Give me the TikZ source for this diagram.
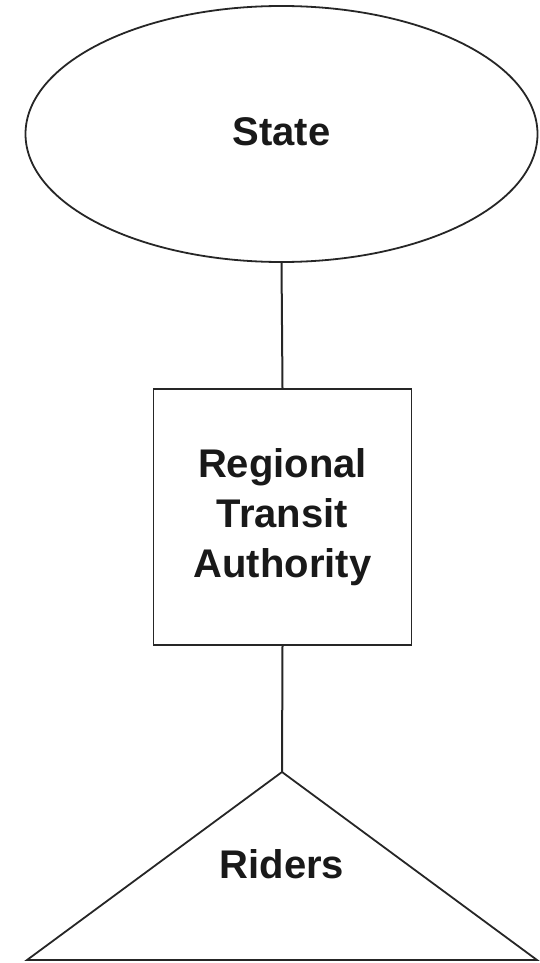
\documentclass[tikz,border=0pt]{standalone}
\usepackage{fontspec}
\setmainfont{Liberation Sans}
\usetikzlibrary{shapes.geometric}
\begin{document}
\begin{tikzpicture}[x=1pt, y=-1pt,
  outline/.style={draw=black!85, line width=1.8pt},
  label/.style={font=\bfseries\fontsize{40}{50}\selectfont, text=black!90, inner sep=0pt, anchor=base, align=center},
  link/.style={draw=black!85, line width=2pt}]
  \useasboundingbox (0,0) rectangle (540,963);
  % top level: the state
  \node[outline, ellipse, minimum width=512pt, minimum height=256pt, inner sep=0pt] (state) at (281.5,134) {};
  \node[label] (statetext) at (281.5,146) {State};
  % middle level: the authority
  \node[outline, rectangle, minimum width=258pt, minimum height=256pt, inner sep=0pt] (rta) at (282.5,517) {};
  \node[label] (rtatext1) at (282.5,477) {Regional};
  \node[label] (rtatext2) at (282.5,527) {Transit};
  \node[label] (rtatext3) at (282.5,577) {Authority};
  % bottom level: the riders
  \coordinate (apex) at (282,772);
  \coordinate (bl) at (27,960);
  \coordinate (br) at (537,960);
  \draw[outline, line join=miter] (apex) -- (br) -- (bl) -- cycle;
  \node[label] (riders) at (282,878) {Riders};
  % connectors
  \draw[link] (state.south) -- (rta.north);
  \draw[link] (rta.south) -- (apex);
\end{tikzpicture}
\end{document}
